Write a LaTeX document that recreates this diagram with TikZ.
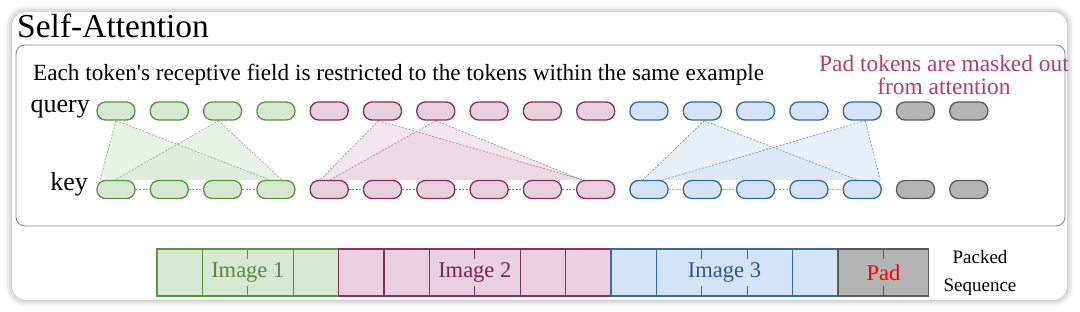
\documentclass[tikz,border=0pt]{standalone}
\usepackage{fontspec}
\setmainfont{Liberation Serif}[Ligatures=TeXOff]
\usetikzlibrary{calc,shadows.blur}
\definecolor{gS}{RGB}{88,150,60}
\definecolor{gF}{RGB}{215,232,210}
\definecolor{pS}{RGB}{140,45,95}
\definecolor{pF}{RGB}{232,208,222}
\definecolor{bS}{RGB}{50,105,170}
\definecolor{bF}{RGB}{212,227,245}
\definecolor{kS}{RGB}{90,90,90}
\definecolor{kF}{RGB}{180,180,180}
\definecolor{gT}{RGB}{85,140,55}
\definecolor{pT}{RGB}{120,35,80}
\definecolor{bT}{RGB}{40,90,150}
\definecolor{padT}{RGB}{180,60,120}
\pgfdeclarelayer{boxes}
\pgfdeclarelayer{tri}
\pgfsetlayers{boxes,tri,main}
\tikzset{
  tok/.style={rectangle, rounded corners=8.5pt, minimum width=38pt, minimum height=18pt, inner sep=0pt, line width=1.3pt},
  tokG/.style={tok, draw=gS, fill=gF},
  tokP/.style={tok, draw=pS, fill=pF},
  tokB/.style={tok, draw=bS, fill=bF},
  tokK/.style={tok, draw=kS, fill=kF},
  att/.style={dash pattern=on 2pt off 1.5pt, line width=0.6pt},
  cell/.style={rectangle, minimum width=45.4pt, minimum height=47pt, inner sep=0pt, line width=1.3pt},
  lab/.style={inner sep=1pt, minimum height=27pt, font=\fontsize{22.5}{24}\selectfont},
}
\begin{document}
\begin{tikzpicture}[x=1pt,y=-1pt]
\useasboundingbox (0,0) rectangle (1080,312);
\begin{pgfonlayer}{boxes}
\node[draw=none, fill=white, rounded corners=14pt, minimum width=1055pt, minimum height=288pt, inner sep=0pt,
  blur shadow={shadow xshift=0pt, shadow yshift=0pt, shadow blur radius=7pt, shadow opacity=40}] (outer) at (539.5,156) {};
\node[draw=black!45, line width=0.9pt, rounded corners=9pt, minimum width=1049pt, minimum height=181pt, inner sep=0pt] (inner) at (540.5,135.5) {};
\end{pgfonlayer}
\node[anchor=base west, inner sep=0pt, font=\fontsize{33.5}{36}\selectfont] (title) at (17,38) {Self-Attention};
\node[anchor=base west, inner sep=0pt, font=\fontsize{23.2}{26}\selectfont] (desc) at (33,81) {Each token's receptive field is restricted to the tokens within the same example};
\node[align=center, inner sep=0pt, text=padT, font=\fontsize{23.4}{23}\selectfont] (padnote) at (944,75) {Pad tokens are masked out\\from attention};
\node[anchor=base east, inner sep=0pt, font=\fontsize{26}{28}\selectfont] (qlab) at (90,113) {query};
\node[anchor=base east, inner sep=0pt, font=\fontsize{26}{28}\selectfont] (klab) at (88,191) {key};
% tokens
\foreach \i in {0,...,3} {\node[tokG] (q\i) at ({116+53.3*\i},111) {}; \node[tokG] (k\i) at ({116+53.3*\i},189.5) {};}
\foreach \i in {4,...,9} {\node[tokP] (q\i) at ({116+53.3*\i},111) {}; \node[tokP] (k\i) at ({116+53.3*\i},189.5) {};}
\foreach \i in {10,...,14} {\node[tokB] (q\i) at ({116+53.3*\i},111) {}; \node[tokB] (k\i) at ({116+53.3*\i},189.5) {};}
\foreach \i in {15,16} {\node[tokK] (q\i) at ({116+53.3*\i},111) {}; \node[tokK] (k\i) at ({116+53.3*\i},189.5) {};}
% attention triangles
\begin{pgfonlayer}{tri}
% green
\fill[gF, opacity=0.55] (q0.south) -- ($(k0.north)+(-16,0)$) -- ($(k3.north)+(-6,0)$) -- cycle;
\fill[gF, opacity=0.55] ($(q2.south)+(-4,0)$) -- ($(k0.north)+(-1,0)$) -- ($(k3.north)+(6,0)$) -- cycle;
\draw[att, gS!75] (q0.south) -- ($(k0.north)+(-16,0)$) (q0.south) -- ($(k3.north)+(-6,0)$);
\draw[att, gS!75] ($(q2.south)+(-4,0)$) -- ($(k0.north)+(-1,0)$) ($(q2.south)+(-4,0)$) -- ($(k3.north)+(6,0)$);
\foreach \a/\b in {0/1,1/2,2/3} \draw[att, gS!75] (k\a.east) -- (k\b.west);
% pink
\fill[pF, opacity=0.55] ($(q5.south)+(-4,0)$) -- ($(k4.north)+(-9,0)$) -- ($(k9.north)+(-13,0)$) -- cycle;
\fill[pF, opacity=0.55] (q6.south) -- ($(k4.north)+(1,0)$) -- ($(k9.north)+(-14,0)$) -- cycle;
\draw[att, pS!65] ($(q5.south)+(-4,0)$) -- ($(k4.north)+(-9,0)$) ($(q5.south)+(-4,0)$) -- ($(k9.north)+(-13,0)$);
\draw[att, pS!65] (q6.south) -- ($(k4.north)+(1,0)$) (q6.south) -- ($(k9.north)+(-14,0)$);
\foreach \a/\b in {4/5,5/6,6/7,7/8,8/9} \draw[att, pS!70] (k\a.east) -- (k\b.west);
% blue
\fill[bF, opacity=0.55] ($(q11.south)+(2,0)$) -- ($(k10.north)+(-6,0)$) -- ($(k14.north)+(-5,0)$) -- cycle;
\fill[bF, opacity=0.55] ($(q14.south)+(3,0)$) -- ($(k10.north)+(14,0)$) -- ($(k14.north)+(18,0)$) -- cycle;
\draw[att, bS!75] ($(q11.south)+(2,0)$) -- ($(k10.north)+(-6,0)$) ($(q11.south)+(2,0)$) -- ($(k14.north)+(-5,0)$);
\draw[att, bS!75] ($(q14.south)+(3,0)$) -- ($(k10.north)+(14,0)$) ($(q14.south)+(3,0)$) -- ($(k14.north)+(18,0)$);
\foreach \a/\b in {10/11,11/12,12/13,13/14} \draw[att, bS!55, line width=1pt] (k\a.east) -- (k\b.west);
\end{pgfonlayer}
% packed sequence bar
\foreach \i in {0,...,3} \node[cell, draw=gS, fill=gF] (c\i) at ({157+45.4*(\i+0.5)},272.5) {};
\foreach \i in {4,...,9} \node[cell, draw=pS, fill=pF] (c\i) at ({157+45.4*(\i+0.5)},272.5) {};
\foreach \i in {10,...,14} \node[cell, draw=bS, fill=bF] (c\i) at ({157+45.4*(\i+0.5)},272.5) {};
\foreach \i in {15,16} \node[cell, draw=kS, fill=kF] (c\i) at ({157+45.4*(\i+0.5)},272.5) {};
\node[lab, fill=gF, text=gT] (img1) at ($(c1.east)!0.5!(c2.west)$) {Image 1};
\node[lab, fill=pF, text=pT] (img2) at ($(c6.east)!0.5!(c7.west)$) {Image 2};
\node[lab, fill=bF, text=bT] (img3) at (c12.center) {Image 3};
\node[lab, fill=kF, text=red, inner sep=3pt] (pad) at ($(c15.east)!0.5!(c16.west)$) {Pad};
\node[align=center, inner sep=0pt, font=\fontsize{19}{28}\selectfont] (packed) at (980,273) {Packed\\Sequence};
\end{tikzpicture}
\end{document}
